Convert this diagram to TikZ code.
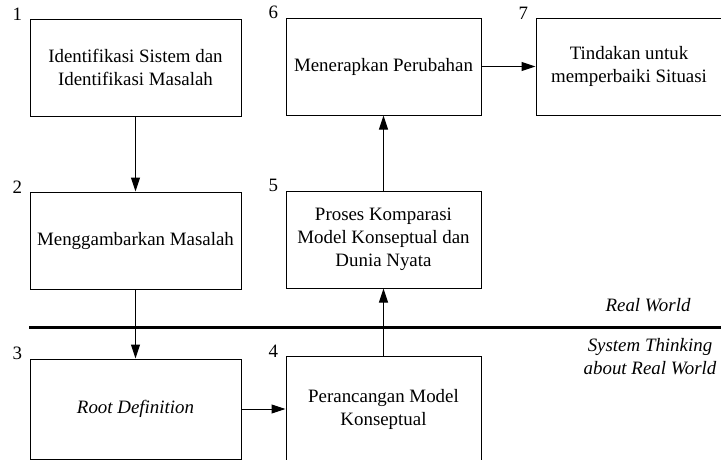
\documentclass[tikz,border=0pt]{standalone}
\usepackage{fontspec}
\setmainfont{Liberation Serif}
\usetikzlibrary{positioning,arrows.meta}

\tikzset{
  box/.style={draw, line width=1pt, align=center, minimum width=211pt, minimum height=97pt, inner sep=2pt, font=\fontsize{18.9}{23}\selectfont},
  num/.style={anchor=south east, inner sep=0pt, xshift=-7pt, yshift=-2pt, font=\fontsize{18.9}{23}\selectfont},
  tag/.style={align=center, font=\fontsize{18.9}{23}\selectfont\itshape},
}

\begin{document}
\begin{tikzpicture}[->,>={Triangle[length=14pt,width=9pt]},line width=1pt,x=1pt,y=1pt]
	\useasboundingbox (0,0) rectangle (721,-459);
	\node[box] (b1) at (135.5,-67.5) {Identifikasi Sistem dan\\Identifikasi Masalah};
	\node[box] (b2) [below=75pt of b1] {Menggambarkan Masalah};
	\node[box,minimum height=100pt] (b3) [below=69pt of b2] {\textit{Root Definition}};
	\node[box,minimum width=195pt,minimum height=106pt] (b4) [right=44pt of b3] {Perancangan Model\\Konseptual};
	\node[box,minimum width=195pt] (b5) [above=67pt of b4] {Proses Komparasi\\Model Konseptual dan\\Dunia Nyata};
	\node[box,minimum width=195pt] (b6) [above=75pt of b5] {Menerapkan Perubahan};
	\node[box,minimum width=186pt] (b7) [right=54pt of b6] {Tindakan untuk\\memperbaiki Situasi};

	\node[num] (n1) at (b1.north west) {1};
	\node[num] (n2) at (b2.north west) {2};
	\node[num] (n3) at (b3.north west) {3};
	\node[num] (n4) at (b4.north west) {4};
	\node[num] (n5) at (b5.north west) {5};
	\node[num] (n6) at (b6.north west) {6};
	\node[num] (n7) at (b7.north west) {7};

	% border between the two worlds
	\coordinate (wl) at (29,-327);
	\coordinate (wr) at (721,-327);
	\draw[-,line width=3pt] (wl) -- (wr);
	\node[tag] (rw) at (648,-305) {Real World};
	\node[tag] (st) at (650,-357) {System Thinking\\about Real World};

	\draw (b1) -- (b2);
	\draw (b2) -- (b3);
	\draw (b3) -- (b4);
	\draw (b4) -- (b5);
	\draw (b5) -- (b6);
	\draw (b6) -- (b7);
\end{tikzpicture}
\end{document}
